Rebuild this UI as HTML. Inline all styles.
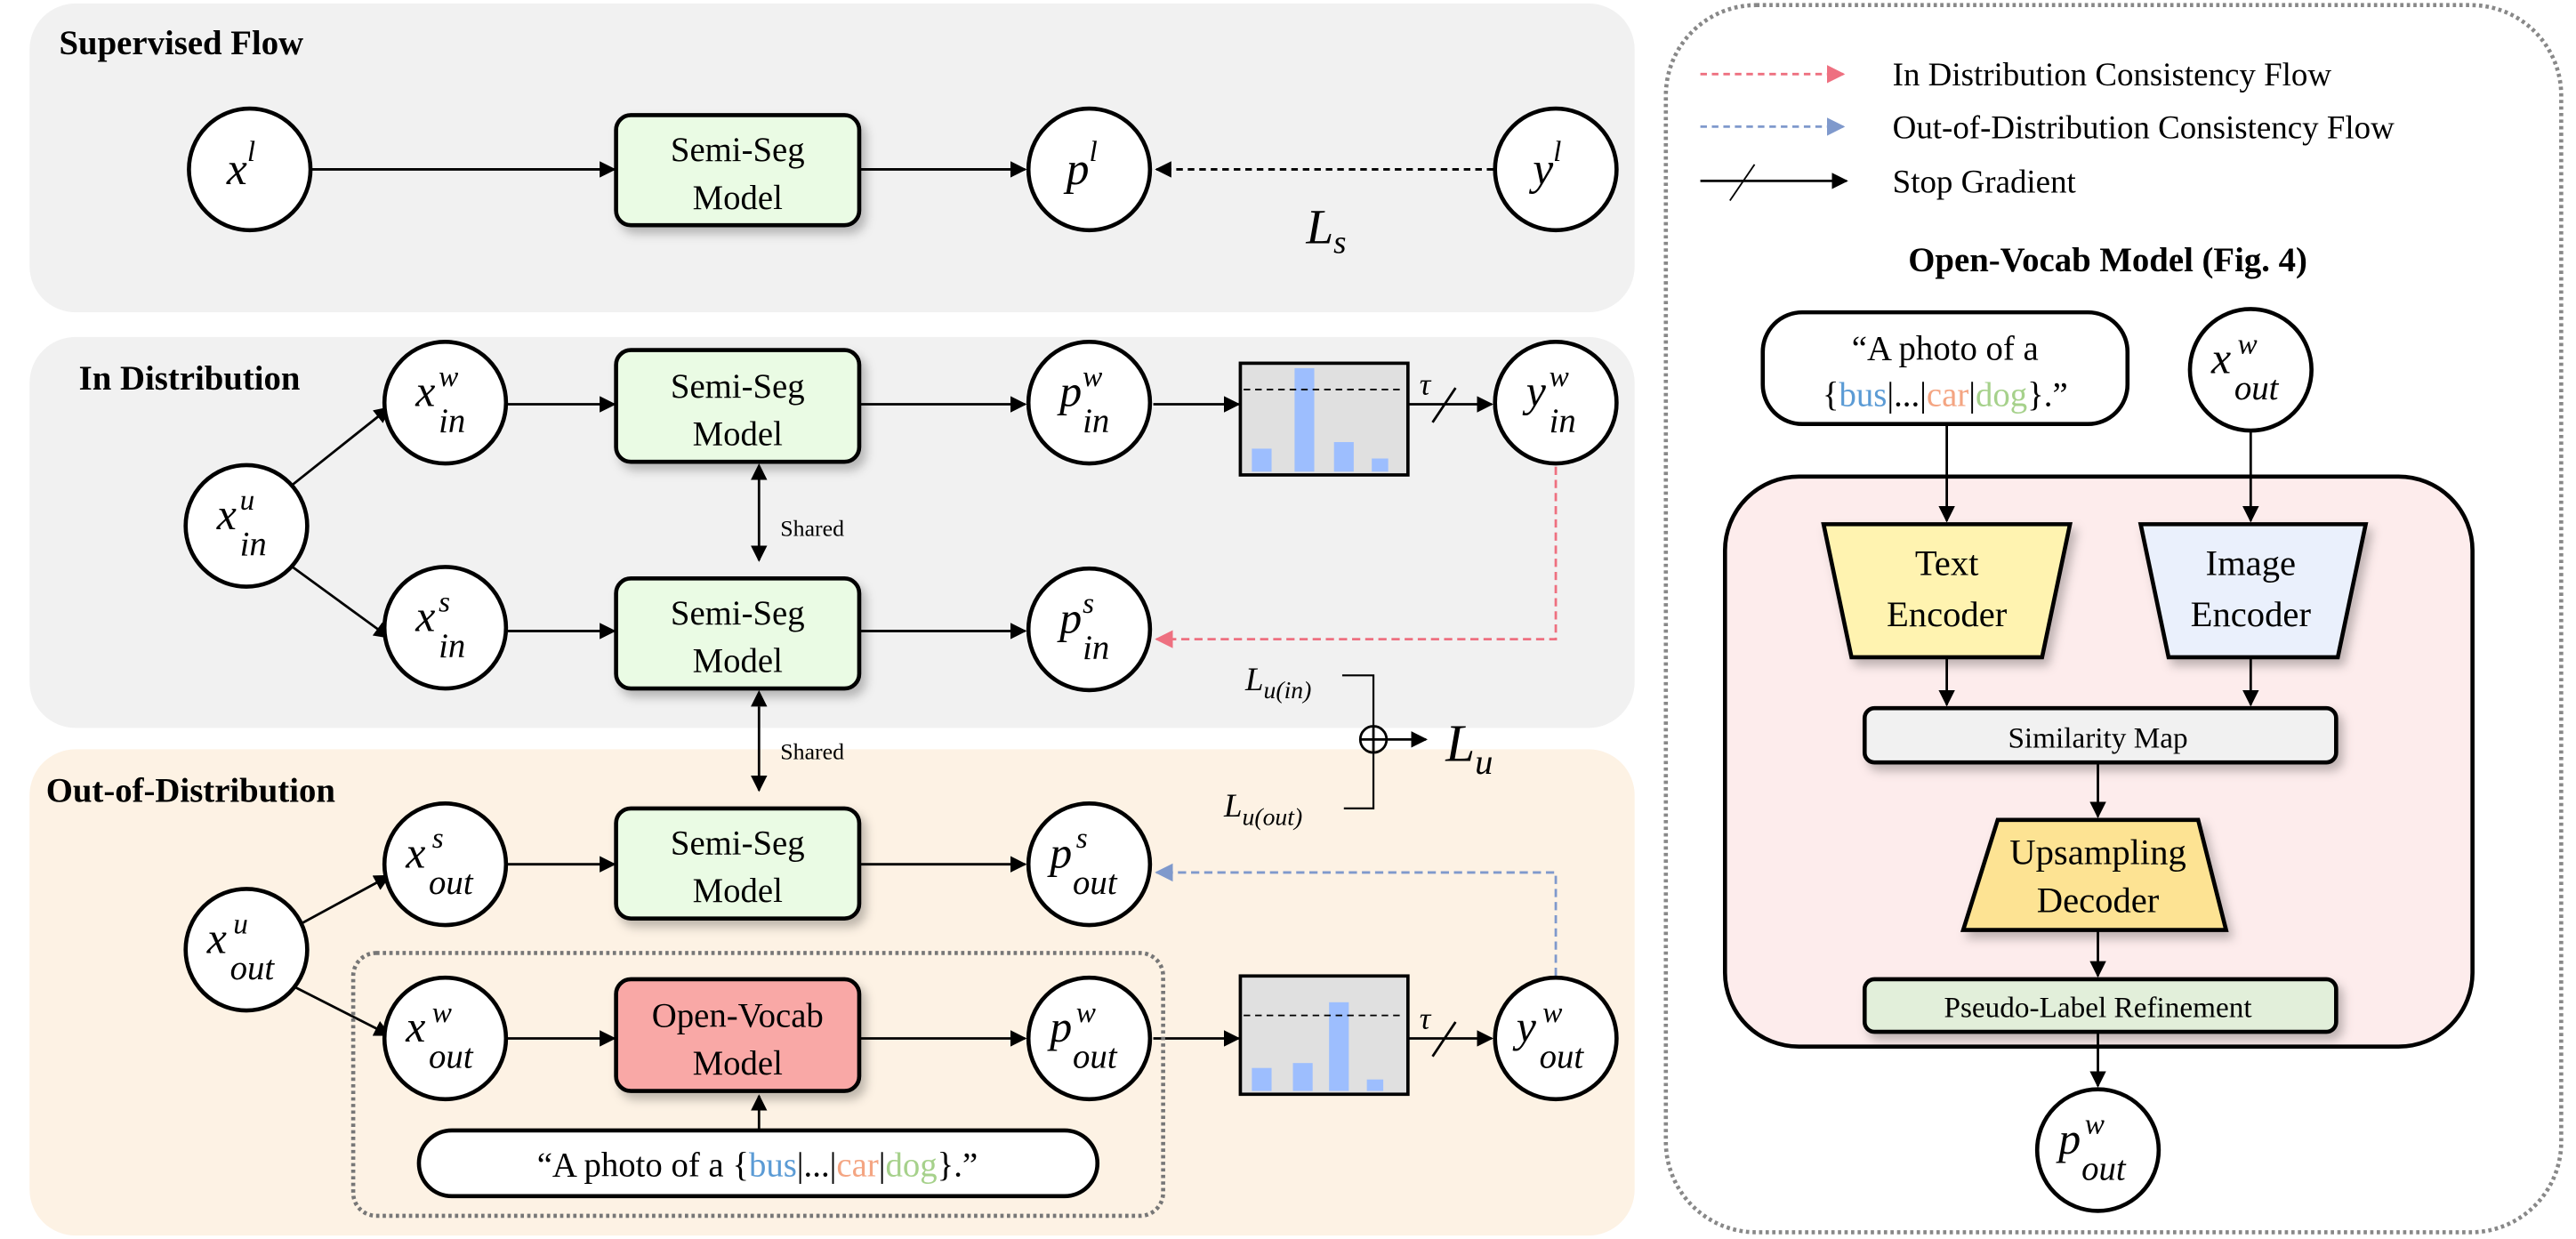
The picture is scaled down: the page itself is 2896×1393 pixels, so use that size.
<!DOCTYPE html>
<html><head><meta charset="utf-8"><style>html,body{margin:0;padding:0;background:#fff}svg{display:block}</style></head><body>
<svg width="2896" height="1393" viewBox="0 0 1568 754" xmlns="http://www.w3.org/2000/svg" style="font-family:'Liberation Serif','Noto Serif CJK SC','DejaVu Serif',serif">
<defs>
<marker id="a" viewBox="0 0 10 10" refX="9" refY="5" markerWidth="10" markerHeight="10" markerUnits="userSpaceOnUse" orient="auto"><path d="M0,0L10,5L0,10z" fill="#000"/></marker>
<marker id="as" viewBox="0 0 10 10" refX="0" refY="5" markerWidth="10" markerHeight="10" markerUnits="userSpaceOnUse" orient="auto-start-reverse"><path d="M0,0L10,5L0,10z" fill="#000"/></marker>
<marker id="ap" viewBox="0 0 10 10" refX="9" refY="5" markerWidth="11" markerHeight="12" markerUnits="userSpaceOnUse" orient="auto"><path d="M0,0L10,5L0,10z" fill="#ee7080"/></marker>
<marker id="ab" viewBox="0 0 10 10" refX="9" refY="5" markerWidth="11" markerHeight="12" markerUnits="userSpaceOnUse" orient="auto"><path d="M0,0L10,5L0,10z" fill="#7f99cc"/></marker>
<filter id="sh" x="-10%" y="-10%" width="130%" height="140%"><feDropShadow dx="3" dy="4" stdDeviation="3" flood-color="#000" flood-opacity="0.25"/></filter>
</defs>
<rect x="18" y="2" width="977" height="188" rx="28" fill="#f1f1f1"/>
<rect x="18" y="205" width="977" height="238" rx="28" fill="#f1f1f1"/>
<rect x="18" y="456" width="977" height="296" rx="28" fill="#fdf2e4"/>
<rect x="1014" y="3" width="545" height="747" rx="55" fill="none" stroke="#888" stroke-width="2.5" stroke-dasharray="2,2"/>
<text x="36" y="33" font-size="21" font-weight="bold">Supervised Flow</text>
<text x="48" y="237" font-size="21" font-weight="bold">In Distribution</text>
<text x="28" y="488" font-size="21" font-weight="bold">Out-of-Distribution</text>

<g stroke="#000" stroke-width="1.5" fill="none">
<line x1="190" y1="103" x2="374" y2="103" marker-end="url(#a)"/>
<line x1="523" y1="103" x2="624" y2="103" marker-end="url(#a)"/>
<line x1="909" y1="103" x2="704" y2="103" stroke-dasharray="4,3" marker-end="url(#a)"/>
<line x1="178" y1="295" x2="237" y2="248" marker-end="url(#a)"/>
<line x1="178" y1="345" x2="237" y2="388" marker-end="url(#a)"/>
<line x1="309" y1="246" x2="374" y2="246" marker-end="url(#a)"/>
<line x1="309" y1="384" x2="374" y2="384" marker-end="url(#a)"/>
<line x1="523" y1="246" x2="624" y2="246" marker-end="url(#a)"/>
<line x1="523" y1="384" x2="624" y2="384" marker-end="url(#a)"/>
<line x1="702" y1="246" x2="754" y2="246" marker-end="url(#a)"/>
<line x1="857" y1="246" x2="908" y2="246" marker-end="url(#a)"/>
<line x1="872" y1="257" x2="886" y2="236"/>
<line x1="462" y1="292" x2="462" y2="341" marker-start="url(#as)" marker-end="url(#a)"/>
<line x1="462" y1="430" x2="462" y2="481" marker-start="url(#as)" marker-end="url(#a)"/>
<line x1="178" y1="565" x2="237" y2="533" marker-end="url(#a)"/>
<line x1="178" y1="600" x2="237" y2="630" marker-end="url(#a)"/>
<line x1="309" y1="526" x2="374" y2="526" marker-end="url(#a)"/>
<line x1="309" y1="632" x2="374" y2="632" marker-end="url(#a)"/>
<line x1="523" y1="526" x2="624" y2="526" marker-end="url(#a)"/>
<line x1="523" y1="632" x2="624" y2="632" marker-end="url(#a)"/>
<line x1="702" y1="632" x2="754" y2="632" marker-end="url(#a)"/>
<line x1="857" y1="632" x2="908" y2="632" marker-end="url(#a)"/>
<line x1="872" y1="643" x2="886" y2="622"/>
<line x1="462" y1="688" x2="462" y2="667" marker-end="url(#a)"/>
<polyline points="817,411 836,411 836,442" stroke-width="1.2"/>
<polyline points="818,492 836,492 836,458" stroke-width="1.2"/>
<line x1="844" y1="450" x2="868" y2="450" marker-end="url(#a)"/>
<circle cx="836" cy="450" r="8"/>
<line x1="828" y1="450" x2="844" y2="450"/><line x1="836" y1="442" x2="836" y2="458"/>
</g>
<polyline points="947,284 947,389 704,389" fill="none" stroke="#ee7080" stroke-width="1.5" stroke-dasharray="5,3" marker-end="url(#ap)"/>
<polyline points="947,594 947,531 704,531" fill="none" stroke="#7f99cc" stroke-width="1.5" stroke-dasharray="5,3" marker-end="url(#ab)"/>
<rect x="215" y="580" width="493" height="160" rx="14" fill="none" stroke="#777" stroke-width="2.5" stroke-dasharray="2,2"/>

<g stroke="#000" stroke-width="2.5" filter="url(#sh)">
<rect x="375" y="70" width="148" height="67" rx="9" fill="#eafbe4"/>
<rect x="375" y="213" width="148" height="68" rx="9" fill="#eafbe4"/>
<rect x="375" y="352" width="148" height="67" rx="9" fill="#eafbe4"/>
<rect x="375" y="492" width="148" height="67" rx="9" fill="#eafbe4"/>
<rect x="375" y="596" width="148" height="68" rx="9" fill="#f9a8a6"/>
</g>
<g font-size="21" text-anchor="middle">
<text x="449" y="98">Semi-Seg</text><text x="449" y="127">Model</text>
<text x="449" y="242">Semi-Seg</text><text x="449" y="271">Model</text>
<text x="449" y="380">Semi-Seg</text><text x="449" y="409">Model</text>
<text x="449" y="520">Semi-Seg</text><text x="449" y="549">Model</text>
<text x="449" y="625">Open-Vocab</text><text x="449" y="654">Model</text>
</g>
<g font-size="14"><text x="475" y="326">Shared</text><text x="475" y="462">Shared</text></g>
<rect x="255" y="688" width="413" height="40" rx="20" fill="#fff" stroke="#000" stroke-width="2.5"/>
<text x="461" y="716" font-size="21" text-anchor="middle">“A photo of a {<tspan fill="#5b9bd5">bus</tspan>|...|<tspan fill="#f4a582">car</tspan>|<tspan fill="#a6d18b">dog</tspan>}.”</text>

<g stroke="#000" stroke-width="2"><rect x="755" y="221" width="102" height="68" fill="#e0e0e0"/><rect x="755" y="594" width="102" height="72" fill="#e0e0e0"/></g>
<g fill="#9dbefe"><rect x="762" y="273" width="12" height="14"/><rect x="788" y="224" width="12" height="63"/><rect x="812" y="269" width="12" height="18"/><rect x="835" y="279" width="10" height="8"/>
<rect x="762" y="650" width="12" height="14"/><rect x="787" y="647" width="12" height="17"/><rect x="809" y="610" width="12" height="54"/><rect x="832" y="657" width="10" height="7"/></g>
<g stroke="#000" stroke-dasharray="4,3" stroke-width="1"><line x1="757" y1="237" x2="855" y2="237"/><line x1="757" y1="618" x2="855" y2="618"/></g>
<g font-size="19" font-style="italic"><text x="864" y="240">τ</text><text x="864" y="626">τ</text></g>

<g fill="#fff" stroke="#000" stroke-width="2.5">
<ellipse cx="152" cy="103" rx="37" ry="37"/><ellipse cx="663" cy="103" rx="37" ry="37"/><ellipse cx="947" cy="103" rx="37" ry="37"/>
<ellipse cx="150" cy="320" rx="37" ry="37"/><ellipse cx="271" cy="245" rx="37" ry="37"/><ellipse cx="271" cy="382" rx="37" ry="37"/>
<ellipse cx="663" cy="245" rx="37" ry="37"/><ellipse cx="663" cy="383" rx="37" ry="37"/><ellipse cx="947" cy="245" rx="37" ry="37"/>
<ellipse cx="150" cy="578" rx="37" ry="37"/><ellipse cx="271" cy="526" rx="37" ry="37"/><ellipse cx="271" cy="632" rx="37" ry="37"/>
<ellipse cx="663" cy="526" rx="37" ry="37"/><ellipse cx="663" cy="632" rx="37" ry="37"/><ellipse cx="947" cy="632" rx="37" ry="37"/>
<ellipse cx="1370" cy="225" rx="37" ry="37"/><ellipse cx="1277" cy="700" rx="37" ry="37"/>
</g>
<g font-style="italic">
<text x="138" y="112" font-size="28">x<tspan font-size="18" dy="-14">l</tspan></text>
<text x="649" y="112" font-size="28">p<tspan font-size="18" dy="-14">l</tspan></text>
<text x="933" y="112" font-size="28">y<tspan font-size="18" dy="-14">l</tspan></text>
<text x="795" y="148" font-size="30">L<tspan font-size="20" dy="6">s</tspan></text>
<text x="880" y="463" font-size="32">L<tspan font-size="22" dy="8">u</tspan></text>
<text x="758" y="420" font-size="20">L<tspan font-size="15" dy="5">u(in)</tspan></text>
<text x="745" y="497" font-size="20">L<tspan font-size="15" dy="5">u(out)</tspan></text>
<g font-size="27">
<text x="132" y="322">x<tspan font-size="18" x="146" y="310">u</tspan><tspan font-size="21" x="146" y="338">in</tspan></text>
<text x="253" y="247">x<tspan font-size="18" x="267" y="235">w</tspan><tspan font-size="21" x="267" y="263">in</tspan></text>
<text x="253" y="384">x<tspan font-size="18" x="267" y="372">s</tspan><tspan font-size="21" x="267" y="400">in</tspan></text>
<text x="645" y="247">p<tspan font-size="18" x="659" y="235">w</tspan><tspan font-size="21" x="659" y="263">in</tspan></text>
<text x="645" y="385">p<tspan font-size="18" x="659" y="373">s</tspan><tspan font-size="21" x="659" y="401">in</tspan></text>
<text x="929" y="247">y<tspan font-size="18" x="943" y="235">w</tspan><tspan font-size="21" x="943" y="263">in</tspan></text>
<text x="126" y="580">x<tspan font-size="18" x="142" y="568">u</tspan><tspan font-size="21" x="140" y="596">out</tspan></text>
<text x="247" y="528">x<tspan font-size="18" x="263" y="516">s</tspan><tspan font-size="21" x="261" y="544">out</tspan></text>
<text x="247" y="634">x<tspan font-size="18" x="263" y="622">w</tspan><tspan font-size="21" x="261" y="650">out</tspan></text>
<text x="639" y="528">p<tspan font-size="18" x="655" y="516">s</tspan><tspan font-size="21" x="653" y="544">out</tspan></text>
<text x="639" y="634">p<tspan font-size="18" x="655" y="622">w</tspan><tspan font-size="21" x="653" y="650">out</tspan></text>
<text x="923" y="634">y<tspan font-size="18" x="939" y="622">w</tspan><tspan font-size="21" x="937" y="650">out</tspan></text>
<text x="1346" y="227">x<tspan font-size="18" x="1362" y="215">w</tspan><tspan font-size="21" x="1360" y="243">out</tspan></text>
<text x="1253" y="702">p<tspan font-size="18" x="1269" y="690">w</tspan><tspan font-size="21" x="1267" y="718">out</tspan></text>
</g>
</g>

<line x1="1035" y1="45" x2="1122" y2="45" stroke="#ee7080" stroke-width="1.5" stroke-dasharray="4,3" marker-end="url(#ap)"/>
<line x1="1035" y1="77" x2="1122" y2="77" stroke="#7f99cc" stroke-width="1.5" stroke-dasharray="4,3" marker-end="url(#ab)"/>
<line x1="1035" y1="110" x2="1124" y2="110" stroke="#000" stroke-width="1.5" marker-end="url(#a)"/>
<line x1="1053" y1="122" x2="1068" y2="100" stroke="#000" stroke-width="1"/>
<g font-size="20"><text x="1152" y="52">In Distribution Consistency Flow</text><text x="1152" y="84">Out-of-Distribution Consistency Flow</text><text x="1152" y="117">Stop Gradient</text></g>
<text x="1283" y="165" font-size="21" font-weight="bold" text-anchor="middle">Open-Vocab Model (Fig. 4)</text>

<rect x="1073" y="190" width="222" height="68" rx="24" fill="#fff" stroke="#000" stroke-width="2.5"/>
<text x="1184" y="219" font-size="21" text-anchor="middle">“A photo of a</text>
<text x="1184" y="247" font-size="21" text-anchor="middle">{<tspan fill="#5b9bd5">bus</tspan>|...|<tspan fill="#f4a582">car</tspan>|<tspan fill="#a6d18b">dog</tspan>}.”</text>

<rect x="1050" y="290" width="455" height="347" rx="45" fill="#fdecec" stroke="#000" stroke-width="2.5"/>
<g stroke="#000" stroke-width="1.5">
<line x1="1185" y1="259" x2="1185" y2="317" marker-end="url(#a)"/>
<line x1="1370" y1="263" x2="1370" y2="317" marker-end="url(#a)"/>
<line x1="1185" y1="400" x2="1185" y2="429" marker-end="url(#a)"/>
<line x1="1370" y1="400" x2="1370" y2="429" marker-end="url(#a)"/>
<line x1="1277" y1="465" x2="1277" y2="497" marker-end="url(#a)"/>
<line x1="1277" y1="566" x2="1277" y2="594" marker-end="url(#a)"/>
<line x1="1277" y1="629" x2="1277" y2="661" marker-end="url(#a)"/>
</g>
<g stroke="#000" stroke-width="2.5" filter="url(#sh)">
<polygon points="1110,319 1260,319 1243,400 1127,400" fill="#fff3b0"/>
<polygon points="1303,319 1440,319 1423,400 1320,400" fill="#eaf0fc"/>
<rect x="1135" y="431" width="287" height="33" rx="6" fill="#f1f1f1"/>
<polygon points="1216,499 1338,499 1355,566 1195,566" fill="#fde393"/>
<rect x="1135" y="596" width="287" height="32" rx="6" fill="#e2efda"/>
</g>
<g font-size="22" text-anchor="middle">
<text x="1185" y="350">Text</text><text x="1185" y="381">Encoder</text>
<text x="1370" y="350">Image</text><text x="1370" y="381">Encoder</text>
<text x="1277" y="526">Upsampling</text><text x="1277" y="555">Decoder</text>
</g>
<text x="1277" y="455" font-size="18" text-anchor="middle">Similarity Map</text>
<text x="1277" y="619" font-size="18" text-anchor="middle">Pseudo-Label Refinement</text>
</svg>
</body></html>
